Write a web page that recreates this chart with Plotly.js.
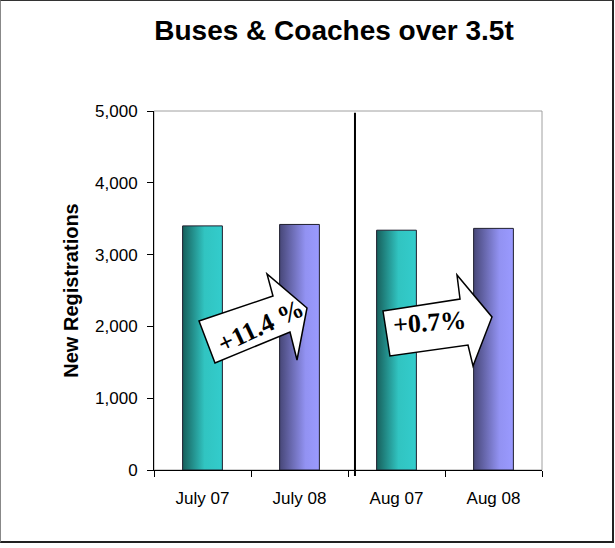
<!DOCTYPE html>
<html>
<head>
<meta charset="utf-8">
<script src="https://cdn.plot.ly/plotly-3.0.1.min.js"></script>
<style>
  html, body { margin:0; padding:0; background:#fff; }
  #chart { position:absolute; left:0; top:0; width:615px; height:548px; }
  #frame { position:absolute; left:0; top:0; width:614px; height:543px; box-sizing:border-box;
           border-top:1px solid #333; border-left:1px solid #888; border-right:2px solid #222; border-bottom:2px solid #222;
           pointer-events:none; }
</style>
</head>
<body>
<div id="chart"></div>
<div id="frame"></div>
<script>
// ---- data ----
const categories = ['July 07', 'July 08', 'Aug 07', 'Aug 08'];
const seriesName = ['2007', '2008', '2007', '2008'];
const registrations = [3400, 3420, 3340, 3365];
const changeLabels = ['+11.4 %', '+0.7%'];
const yTicks = [0, 1000, 2000, 3000, 4000, 5000];

// ---- styles ----
const gradients = {
  '2007': [[0, '#17605c'], [0.55, '#31c4c1'], [1, '#33cccc']],
  '2008': [[0, '#474778'], [0.65, '#9292f2'], [1, '#9a9aff']]
};
const barHalf = 0.205;

const traces = categories.map((c, i) => {
  const xc = i + 1, v = registrations[i];
  return {
    type: 'scatter', mode: 'lines', name: c,
    x: [xc - barHalf, xc - barHalf, xc + barHalf, xc + barHalf, xc - barHalf],
    y: [0, v, v, 0, 0],
    fill: 'toself',
    fillgradient: { type: 'horizontal', colorscale: gradients[seriesName[i]], start: xc - barHalf, stop: xc + barHalf },
    line: { color: '#1e1e2e', width: 1 },
    hoverinfo: 'skip', showlegend: false
  };
});

// plot area in pixels
const L = 154, R = 73, T = 111, B = 78, W = 615, H = 548;
const pw = W - L - R, ph = H - T - B;
const px = x => ((x - L) / pw).toFixed(4);
const py = y => ((H - B - y) / ph).toFixed(4);
const path = pts => 'M' + pts.map(p => px(p[0]) + ',' + py(p[1])).join(' L') + ' Z';

const arrow1 = [[199,321],[273,296],[267,274],[307,308],[297,360],[290,332],[215,363]];
const arrow2 = [[383,311],[460,299],[457,275],[492,317],[473,366],[468,345],[390,356]];

const shapes = [
  { type:'rect', xref:'paper', yref:'paper', x0:0, x1:1, y0:0, y1:1, line:{color:'#a0a0a0', width:1}, layer:'below' },
  { type:'line', xref:'x', yref:'paper', x0:2.572, x1:2.572, y0:-0.017, y1:0.995, line:{color:'#000', width:2} },
  { type:'path', xref:'paper', yref:'paper', path: path(arrow1), fillcolor:'#fff', line:{color:'#000', width:1.5} },
  { type:'path', xref:'paper', yref:'paper', path: path(arrow2), fillcolor:'#fff', line:{color:'#000', width:1.5} }
];

const arrowFont = {family:'Liberation Serif, Times New Roman, serif', size:26, color:'#000', weight:'bold'};
const annotations = [
  { xref:'paper', yref:'paper', x: +px(260), y: +py(326), text: changeLabels[0], showarrow:false, textangle:-25,
    xanchor:'center', yanchor:'middle', font: arrowFont },
  { xref:'paper', yref:'paper', x: +px(429), y: +py(323), text: changeLabels[1], showarrow:false, textangle:-4,
    xanchor:'center', yanchor:'middle', font: arrowFont }
];

const layout = {
  width: W, height: H,
  margin: { l: L, r: R, t: T, b: B, pad: 0 },
  paper_bgcolor: '#fff', plot_bgcolor: '#fff',
  font: { family: 'Liberation Sans, Arial, sans-serif', color: '#000' },
  title: { text: '<b>Buses & Coaches over 3.5t</b>', xref:'container', yref:'container', x: 334/615, y: 1 - 30/548,
           xanchor:'center', yanchor:'middle', font: { size: 28, color:'#000' } },
  xaxis: {
    range: [0.5, 4.5], tickvals: [1, 2, 3, 4], ticktext: categories,
    ticks: '', ticklabelstandoff: 13, tickfont: { size: 17 },
    showgrid: false, zeroline: false, showline: true, linecolor: '#000', linewidth: 1,
    minor: { tickvals: [0.5, 1.5, 2.5, 3.5, 4.5], ticks: 'outside', ticklen: 6, tickcolor: '#000', showgrid:false }
  },
  yaxis: {
    range: [0, 5000], tickvals: yTicks, tickformat: ',d',
    ticks: 'outside', ticklen: 6, tickcolor: '#000', tickfont: { size: 17 }, ticklabelstandoff: 6,
    showgrid: false, zeroline: false, showline: true, linecolor: '#000', linewidth: 1,
    title: { text: '<b>New Registrations</b>', font: { size: 20 }, standoff: 11 }
  },
  shapes, annotations, showlegend: false
};

Plotly.newPlot('chart', traces, layout, { displayModeBar: false, staticPlot: true });
</script>
</body>
</html>
